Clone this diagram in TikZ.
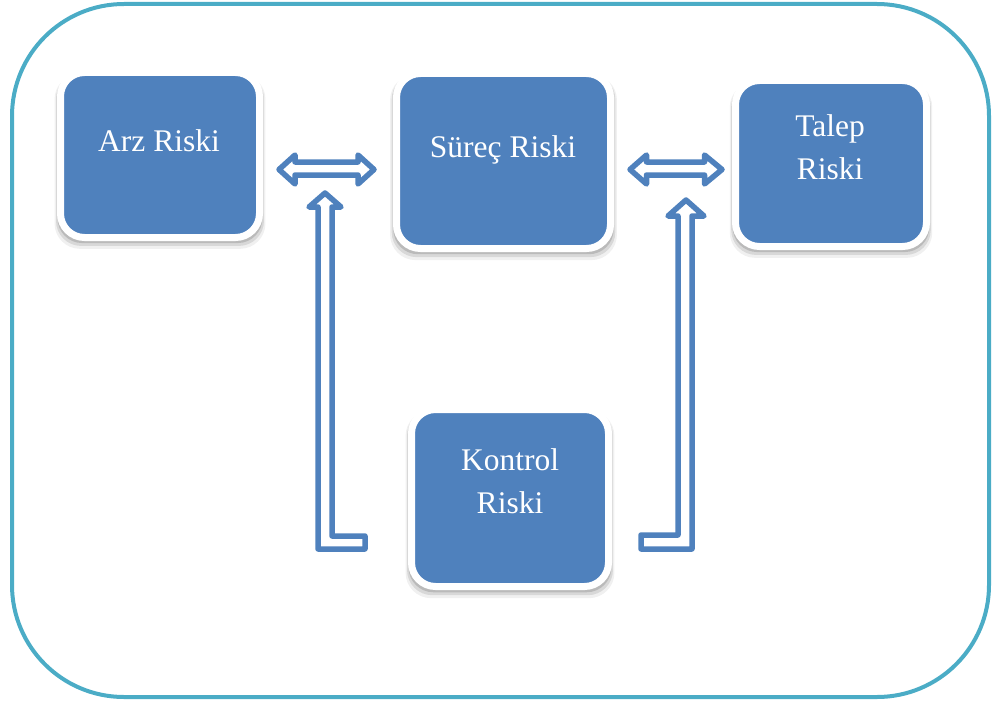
\documentclass[tikz,border=0pt]{standalone}
\usepackage{fontspec}
\setmainfont{Liberation Serif}
\usetikzlibrary{shadows}
\definecolor{boxblue}{HTML}{4F81BD}
\definecolor{frameaqua}{HTML}{4BACC6}
\begin{document}
\begin{tikzpicture}[x=1pt,y=-1pt,
  riskbox/.style={rectangle, rounded corners=24pt, fill=boxblue, draw=white,
    line width=7pt, inner sep=0pt,
    general shadow={fill=black, opacity=.06, shadow yshift=-6pt, shadow scale=1.06},
    general shadow={fill=black, opacity=.10, shadow yshift=-4.5pt, shadow scale=1.045},
    general shadow={fill=black, opacity=.14, shadow yshift=-3pt, shadow scale=1.03}},
  risklabel/.style={text=white, font=\fontsize{31.5}{43}\selectfont, anchor=base,
    align=center, inner sep=0pt},
  hollowarrow/.style={draw=boxblue, fill=white, line width=5.5pt, line join=round}]
\useasboundingbox (0,0) rectangle (992,706);

% outer frame
\draw[frameaqua, line width=4pt, rounded corners=112pt] (12,4) rectangle (989,697);

% risk boxes
\node[riskbox, minimum width=199pt, minimum height=165pt] (arz)     at (160,155)   {};
\node[riskbox, minimum width=214pt, minimum height=175pt] (surec)   at (503.5,161) {};
\node[riskbox, minimum width=191pt, minimum height=166pt] (talep)   at (831,163.5) {};
\node[riskbox, minimum width=197pt, minimum height=177pt] (kontrol) at (510,498)   {};

% labels (multi-line labels sit on the baseline of their last line)
\node[risklabel] (arzlbl)     at (159,151)   {Arz Riski};
\node[risklabel] (sureclbl)   at (503,157)   {Süreç Riski};
\node[risklabel] (taleplbl)   at (830,179)   {Talep\\Riski};
\node[risklabel] (kontrollbl) at (510,513)   {Kontrol\\Riski};

% double-headed block arrows between the upper boxes
\draw[hollowarrow] (279,169.5) -- (295,155) -- (295,162) -- (358,162) -- (358,155)
  -- (374,169.5) -- (358,184) -- (358,175) -- (295,175) -- (295,184) -- cycle;
\draw[hollowarrow] (630,169.5) -- (646.5,155) -- (646.5,162) -- (704.5,162) -- (704.5,155)
  -- (722,169.5) -- (704.5,184) -- (704.5,175) -- (646.5,175) -- (646.5,184) -- cycle;

% bent block arrows rising from the control box
\draw[hollowarrow] (325,193) -- (341,207) -- (332,207) -- (332,536) -- (365,536)
  -- (365,549) -- (318,549) -- (318,207) -- (309,207) -- cycle;
\draw[hollowarrow] (686,200) -- (704,216) -- (692,216) -- (692,549) -- (641,549)
  -- (641,535) -- (678,535) -- (678,216) -- (668,216) -- cycle;
\end{tikzpicture}
\end{document}
